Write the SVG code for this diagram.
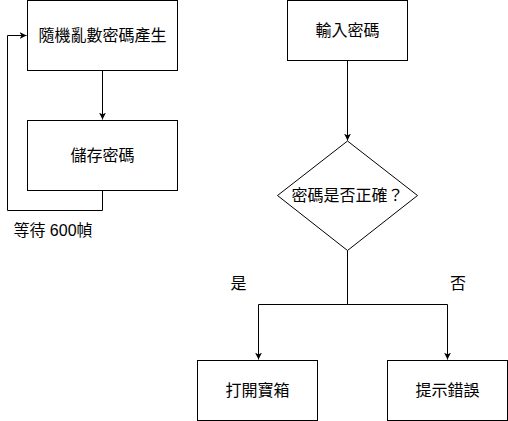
<svg xmlns="http://www.w3.org/2000/svg" width="508" height="421" viewBox="0 0 508 421">
<style>
.box{fill:#fff;stroke:#000;stroke-width:1}
.t{font-family:"Liberation Sans","Noto Sans CJK TC",sans-serif;font-size:16px;fill:#000;text-anchor:middle;dominant-baseline:central}
.c{fill:none;stroke:#000;stroke-width:1}
</style>
<defs>
<marker id="arr" markerWidth="8" markerHeight="8" refX="7" refY="4" orient="auto" markerUnits="userSpaceOnUse">
<path d="M0,0.5 L7,4 L0,7.5 L2,4 Z" fill="#000"/>
</marker>
</defs>
<rect width="508" height="421" fill="#fff"/>
<g id="connectors">
<path class="c" d="M102.5,70.5 V119.5" marker-end="url(#arr)"/>
<path class="c" d="M102.5,190.5 V210.5 H7.5 V35.5 H26.5" marker-end="url(#arr)"/>
<path class="c" d="M347.5,60.5 V140.5" marker-end="url(#arr)"/>
<path class="c" d="M347.5,250.5 V304.5 H258.5 V359.5" marker-end="url(#arr)"/>
<path class="c" d="M347.5,304.5 H447.5 V359.5" marker-end="url(#arr)"/>
</g>
<g id="n1"><rect class="box" x="27.5" y="0.5" width="150" height="70"/><text class="t" x="102.5" y="35.5">隨機亂數密碼產生</text></g>
<g id="n2"><rect class="box" x="27.5" y="120.5" width="150" height="70"/><text class="t" x="102.5" y="155.5">儲存密碼</text></g>
<g id="wait"><text class="t" x="53" y="230.5">等待 600幀</text></g>
<g id="n3"><rect class="box" x="287.5" y="0.5" width="120" height="60"/><text class="t" x="347.5" y="30.5">輸入密碼</text></g>
<g id="n4"><polygon class="box" points="347.5,141 417.5,195.5 347.5,250.5 277.5,195.5"/><text class="t" x="347.5" y="195.5">密碼是否正確？</text></g>
<g id="yes"><text class="t" x="238.5" y="283">是</text></g>
<g id="no"><text class="t" x="458" y="283">否</text></g>
<g id="n5"><rect class="box" x="197.5" y="360.5" width="120" height="60"/><text class="t" x="257.5" y="390.5">打開寶箱</text></g>
<g id="n6"><rect class="box" x="387.5" y="360.5" width="120" height="60"/><text class="t" x="447.5" y="390.5">提示錯誤</text></g>
</svg>
